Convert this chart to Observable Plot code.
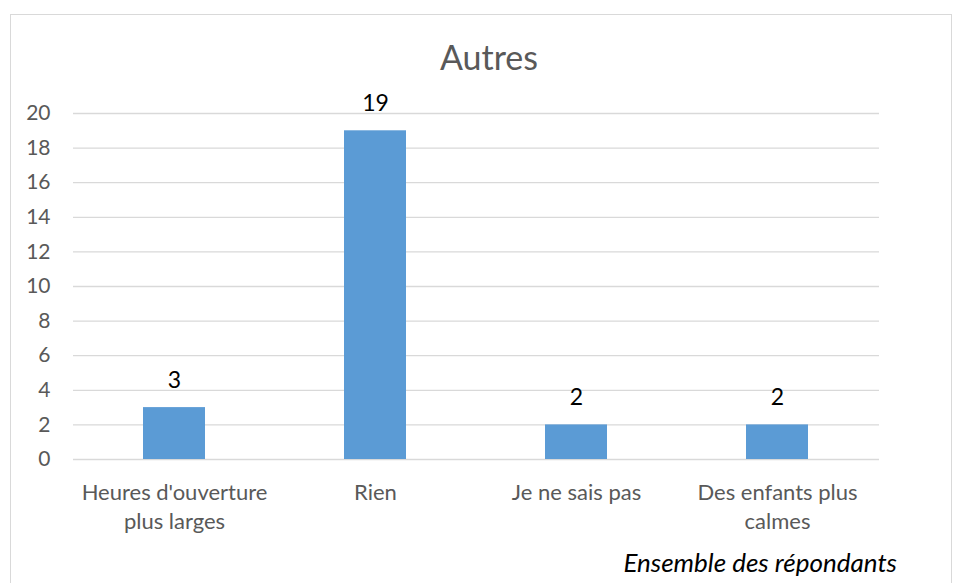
<!DOCTYPE html>
<html><head><meta charset="utf-8">
<script src="https://cdn.jsdelivr.net/npm/d3@7"></script>
<script src="https://cdn.jsdelivr.net/npm/@observablehq/plot@0.6"></script>
<style>
body{margin:0;background:#fff;}
#wrap{position:relative;width:954px;height:583px;overflow:hidden;font-family:Lato,"Open Sans",sans-serif;}
#frame{position:absolute;left:10px;top:14px;width:942px;height:600px;border:1.5px solid #d9d9d9;box-sizing:border-box;}
#title{position:absolute;left:0;width:978px;top:36px;text-align:center;font-size:34px;color:#595959;}
#caption{position:absolute;right:57px;top:546px;font-size:26px;font-style:italic;color:#000;}
#chart{position:absolute;left:0;top:0;}
</style></head>
<body><div id="wrap"><div id="frame"></div><div id="title">Autres</div><div id="chart"></div><div id="caption">Ensemble des répondants</div></div>
<script>
const categories = ["Heures d'ouverture\nplus larges", "Rien", "Je ne sais pas", "Des enfants plus\ncalmes"];
const values = [3, 19, 2, 2];
const yTicks = [0, 2, 4, 6, 8, 10, 12, 14, 16, 18, 20];
const data = categories.map((c, i) => ({cat: c, v: values[i]}));

const chart = Plot.plot({
  width: 954, height: 583,
  marginLeft: 73, marginRight: 75, marginTop: 113, marginBottom: 124,
  style: {fontFamily: "Lato, 'Open Sans', sans-serif", background: "transparent"},
  x: {domain: categories, paddingInner: 0.69, paddingOuter: 0.345, label: null},
  y: {domain: [0, 20], ticks: yTicks, label: null},
  marks: [
    Plot.gridY(yTicks, {stroke: "#d9d9d9", strokeOpacity: 1, strokeWidth: 1.3}),
    Plot.barY(data, {x: "cat", y: "v", fill: "#5b9bd5"}),
    Plot.text(data, {x: "cat", y: "v", text: d => String(d.v), dy: -27, fontSize: 23, fill: "#000"}),
    Plot.axisY(yTicks, {tickSize: 0, tickPadding: 23, fontSize: 21, color: "#595959", label: null}),
    Plot.axisX({tickSize: 0, tickPadding: 20, fontSize: 22, color: "#595959", lineHeight: 1.32, label: null})
  ]
});
document.getElementById("chart").appendChild(chart);
</script></body></html>
